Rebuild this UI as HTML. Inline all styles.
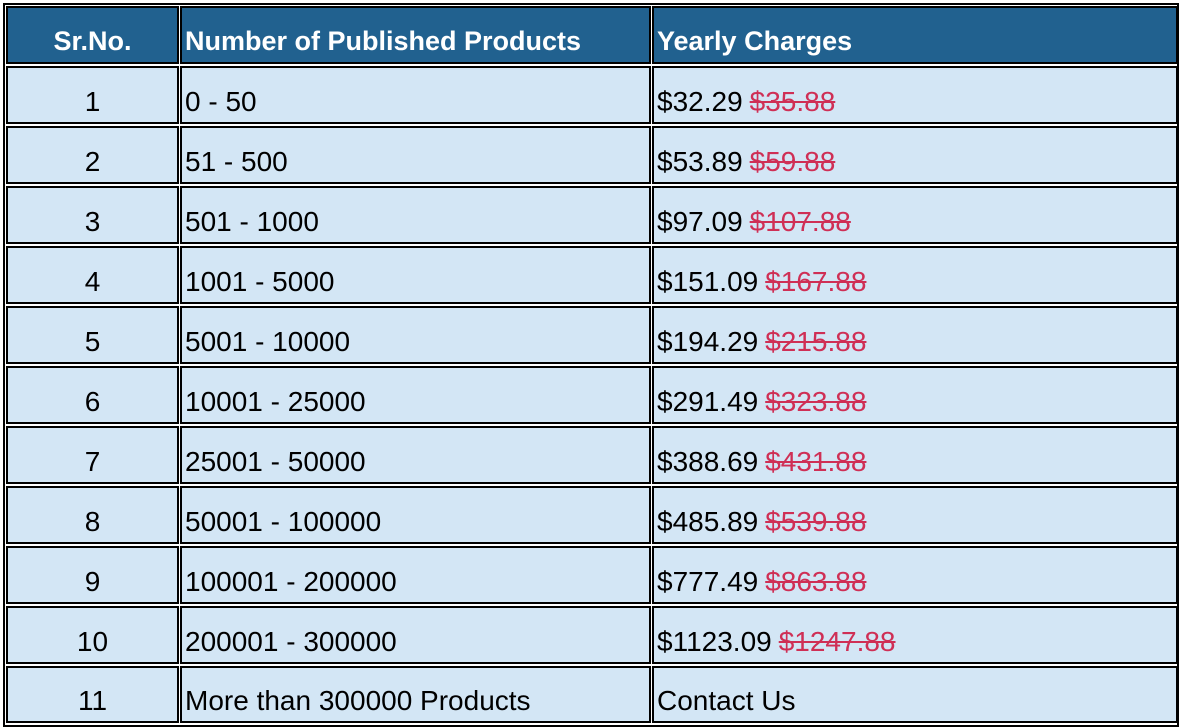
<!DOCTYPE html>
<html><head><meta charset="utf-8"><style>
body{margin:0;width:1180px;height:728px;background:#fff;position:relative;overflow:hidden;font-family:"Liberation Sans",sans-serif;}
#frame{position:absolute;left:3px;top:3px;width:1172px;height:720px;border:2px solid #000;}
.c{position:absolute;box-sizing:border-box;border:2px solid #000;background:#d3e6f5;display:flex;align-items:flex-end;padding:0 0 3px 3px;font-size:28px;line-height:34px;color:#000;white-space:nowrap;}
.h{background:#21618f;color:#fff;font-weight:bold;font-size:27px;padding:0 0 4px 3px;}
.ctr{justify-content:center;padding-left:0;}
.old{color:#cf2f55;text-decoration:line-through;margin-left:7px;}
</style></head><body>
<div id="frame"></div>
<div id="t"></div>
<script>
const srNos=["1","2","3","4","5","6","7","8","9","10","11"];
const ranges=["0 - 50","51 - 500","501 - 1000","1001 - 5000","5001 - 10000","10001 - 25000","25001 - 50000","50001 - 100000","100001 - 200000","200001 - 300000","More than 300000 Products"];
const prices=["$32.29","$53.89","$97.09","$151.09","$194.29","$291.49","$388.69","$485.89","$777.49","$1123.09","Contact Us"];
const oldPrices=["$35.88","$59.88","$107.88","$167.88","$215.88","$323.88","$431.88","$539.88","$863.88","$1247.88",""];
const cols=[[6,173],[180,471],[652,526]];
const t=document.getElementById('t');
function cell(x,w,y,h,cls,html,name){
  const d=document.createElement('div');
  d.className='c '+cls;
  d.style.left=x+'px';d.style.width=w+'px';d.style.top=y+'px';d.style.height=h+'px';
  d.innerHTML=html;
  
  
  t.appendChild(d);
}
cell(cols[0][0],cols[0][1],6,58,'h ctr','Sr.No.','header-sr-no');
cell(cols[1][0],cols[1][1],6,58,'h','Number of Published Products','header-products');
cell(cols[2][0],cols[2][1],6,58,'h','Yearly Charges','header-charges');
for(let i=0;i<srNos.length;i++){
  const y=66+i*60, h=i==10?57:58;
  cell(cols[0][0],cols[0][1],y,h,'ctr',srNos[i],'sr-no-cell');
  cell(cols[1][0],cols[1][1],y,h,'',ranges[i],'products-cell');
  cell(cols[2][0],cols[2][1],y,h,'',prices[i]+(oldPrices[i]?'<span class="old">'+oldPrices[i]+'</span>':''),'charges-cell');
}
</script>
</body></html>
